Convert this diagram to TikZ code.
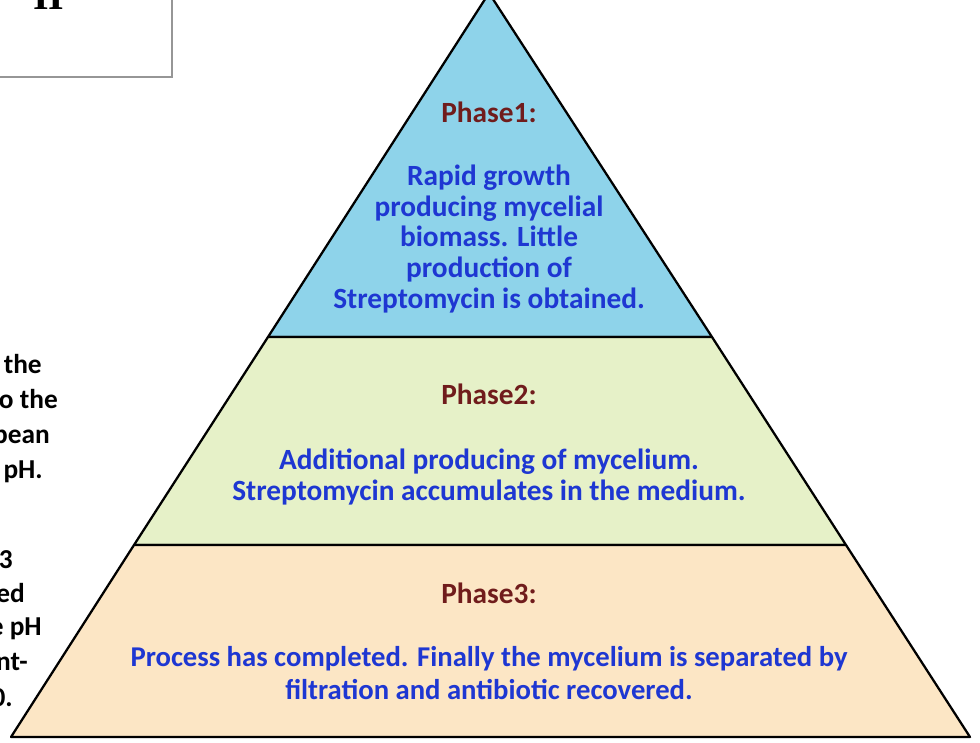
\documentclass[tikz,border=0pt]{standalone}
\usepackage{fontspec}
\setmainfont{Carlito}
\newfontfamily\boxfont{Liberation Serif}
\definecolor{phasered}{RGB}{112,28,28}
\definecolor{detailblue}{RGB}{30,55,210}
\definecolor{topfill}{RGB}{142,211,234}
\definecolor{midfill}{RGB}{230,241,200}
\definecolor{basefill}{RGB}{252,230,197}
\definecolor{boxgray}{RGB}{150,150,150}
\begin{document}
\begin{tikzpicture}[x=0.75pt,y=-0.75pt,
    layer/.style={draw=black,line width=1.7pt,line join=round},
    phase/.style={font=\bfseries\fontsize{22}{23}\selectfont,text=phasered,inner sep=0pt},
    detail/.style={font=\bfseries\fontsize{22}{23}\selectfont,text=detailblue,align=center,inner sep=0pt},
    sidetext/.style={font=\bfseries\fontsize{20.5}{26}\selectfont,anchor=base east,inner sep=0pt}]
  \useasboundingbox (0,0) rectangle (980,742);
  \clip (0,0) rectangle (980,742);
  \fill[white] (0,0) rectangle (980,742);
  % box in the corner
  \draw[boxgray,line width=2pt] (-10,-10) rectangle (172,77);
  \node[font=\boxfont\bfseries\fontsize{30}{30}\selectfont,anchor=base west,inner sep=0pt] (boxlabel) at (33,10) {II};
  % text cut at the left border
  \foreach \txt/\xr/\yb [count=\i] in {the/42/373,o the/58/408,pean/50/443,pH./43/478,
      3/13/568,ed/25/602,e pH/42/635,nt-/28/670,0./13/706}{
    \node[sidetext] (side-\i) at (\xr,\yb) {\txt};
  }
  % pyramid
  \coordinate (apex) at (489,-7);
  \coordinate (l1) at (268,337);
  \coordinate (r1) at (712,337);
  \coordinate (l2) at (134,545);
  \coordinate (r2) at (846,545);
  \coordinate (l3) at (11,737);
  \coordinate (r3) at (970,737);
  \filldraw[layer,fill=topfill] (apex) -- (r1) -- (l1) -- cycle;
  \filldraw[layer,fill=midfill] (l1) -- (r1) -- (r2) -- (l2) -- cycle;
  \filldraw[layer,fill=basefill] (l2) -- (r2) -- (r3) -- (l3) -- cycle;
  % phases
  \node[phase] (phase1) at (489,112) {Phase1:};
  \node[detail] (detail1) at (489,239) {Rapid growth\\producing mycelial\\biomass. Little\\production of\\Streptomycin is obtained.};
  \node[phase] (phase2) at (489,394) {Phase2:};
  \node[detail] (detail2) at (489,477) {Additional producing of mycelium.\\Streptomycin accumulates in the medium.};
  \node[phase] (phase3) at (489,593) {Phase3:};
  \node[detail,font=\bfseries\fontsize{21.5}{25}\selectfont] (detail3) at (489,673) {Process has completed. Finally the mycelium is separated by\\filtration and antibiotic recovered.};
\end{tikzpicture}
\end{document}
